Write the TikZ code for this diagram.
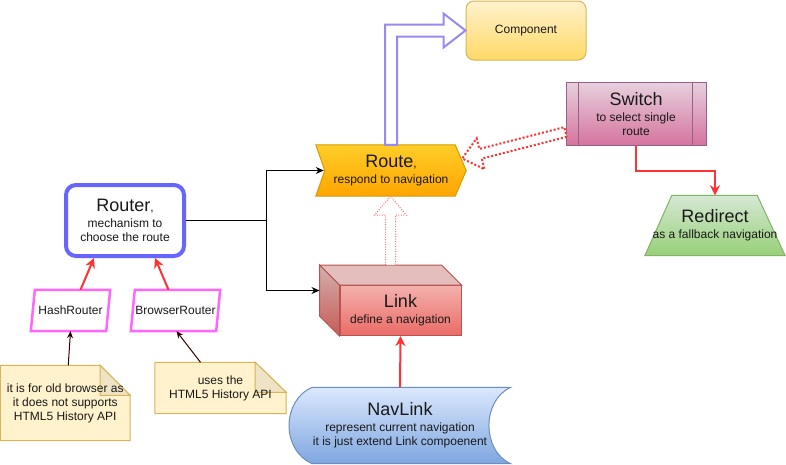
\documentclass[tikz,border=0pt]{standalone}
\usepackage{fontspec}
\setmainfont{Liberation Sans}
\usepackage{tikz}
\usetikzlibrary{calc, arrows.meta, backgrounds}

\definecolor{routerblue}{HTML}{6666FF}
\definecolor{pinkline}{HTML}{FF66FF}
\definecolor{redline}{HTML}{FF3333}
\definecolor{noteline}{HTML}{330000}
\definecolor{flexline}{HTML}{9B88F5}
\definecolor{notefill}{HTML}{FFF2CC}
\definecolor{notedraw}{HTML}{D6B656}
\definecolor{foldfill}{HTML}{EEE3C4}
\definecolor{routetop}{HTML}{FFCD28}
\definecolor{routebot}{HTML}{FFA500}
\definecolor{routedraw}{HTML}{D79B00}
\definecolor{comptop}{HTML}{FFF2CC}
\definecolor{compbot}{HTML}{FFD966}
\definecolor{swtop}{HTML}{E6D0DE}
\definecolor{swbot}{HTML}{D5739D}
\definecolor{swdraw}{HTML}{996185}
\definecolor{redirtop}{HTML}{D5E8D4}
\definecolor{redirbot}{HTML}{97D077}
\definecolor{redirdraw}{HTML}{82B366}
\definecolor{linktop}{HTML}{F8CECC}
\definecolor{linkbot}{HTML}{EA6B66}
\definecolor{linkdraw}{HTML}{B85450}
\definecolor{navtop}{HTML}{DAE8FC}
\definecolor{navbot}{HTML}{7EA6E0}
\definecolor{navdraw}{HTML}{6C8EBF}

\newcommand{\bigtxt}{\fontsize{18}{20}\selectfont}

% hollow straight arrow: style, tail, tip
\newcommand{\hollowarrow}[3]{%
  \coordinate (ha-c) at ($(#3)!19pt!(#2)$);
  \draw[#1] ($(#2)!5pt!90:(#3)$) -- ($(ha-c)!5pt!90:(#3)$) -- ($(ha-c)!16pt!90:(#3)$)
    -- (#3) -- ($(ha-c)!16pt!-90:(#3)$) -- ($(ha-c)!5pt!-90:(#3)$) -- ($(#2)!5pt!-90:(#3)$) -- cycle;}

\begin{document}
\begin{tikzpicture}[x=1pt, y=-1pt,
    every node/.style={font=\fontsize{12}{14}\selectfont, text=black!90, align=center, inner sep=0pt},
    routerbox/.style={draw=routerblue, line width=4, rounded corners=10, fill=white},
    slantfill/.style={draw=pinkline, line width=2.5, fill=white},
    notefill/.style={draw=notedraw, fill=notefill, line width=1},
    foldfill/.style={draw=notedraw, fill=foldfill, line width=1},
    conn/.style={-{Stealth[length=8pt,width=7pt]}, line width=1},
    redarrow/.style={-{Stealth[length=10pt,width=10pt]}, draw=redline, line width=2},
    notearrow/.style={-{Stealth[length=7pt,width=6pt]}, draw=noteline, line width=1},
    bendarrow/.style={draw=flexline, line width=2, fill=white, line join=miter},
    dottedarrow/.style={draw=redline, line width=2, dash pattern=on 2pt off 2pt, fill=white},
    thinarrow/.style={draw=redline!70, line width=1, dash pattern=on 1pt off 1.5pt, fill=white}
  ]
  \useasboundingbox (0,0) rectangle (786,464);

  % nodes
  \node (router) [routerbox, minimum width=118, minimum height=71] at (125,220.5)
    {{\bigtxt Router},\\[2pt] mechanism to\\ choose the route};
  \node (hash) [minimum width=79, minimum height=41] at (70.5,310.5) {HashRouter};
  \node (brow) [minimum width=89, minimum height=41] at (175.5,310.5) {BrowserRouter};
  \node (note1) [minimum width=129.5, minimum height=75] at (65.25,403)
    {it is for old browser as\\ it does not supports\\ HTML5 History API};
  \node (note2) [minimum width=131, minimum height=51] at (220.5,388)
    {uses the\\ HTML5 History API};
  \node (route) [minimum width=150, minimum height=51] at (391,170.5)
    {{\bigtxt Route},\\[2pt] respond to navigation};
  \node (comp) [draw=notedraw, line width=1, top color=comptop, bottom color=compbot,
    rounded corners=8, minimum width=120, minimum height=59] at (526,30.5) {Component};
  \node (sw) [draw=swdraw, line width=1, top color=swtop, bottom color=swbot,
    minimum width=140, minimum height=63] at (636,114)
    {{\bigtxt Switch}\\[2pt] to select single\\ route};
  \node (redir) [minimum width=140, minimum height=60] at (715,225.5)
    {{\bigtxt Redirect}\\[2pt] as a fallback navigation};
  \node (link) [draw=linkdraw, line width=1, top color=linktop!70!linkbot, bottom color=linkbot,
    minimum width=121, minimum height=50] at (400.5,310.5)
    {{\bigtxt Link}\\[2pt] define a navigation};
  \node (nav) [minimum width=221, minimum height=76] at (400,425.5)
    {{\bigtxt NavLink}\\[2pt] represent current navigation\\ it is just extend Link compoenent};

  % shapes behind the texts
  \begin{pgfonlayer}{background}
    \fill[white] (0,0) rectangle (786,464);
    \path[slantfill] ([xshift=4]hash.north west) -- (hash.north east)
      -- ([xshift=-4]hash.south east) -- (hash.south west) -- cycle;
    \path[slantfill] ([xshift=4]brow.north west) -- (brow.north east)
      -- ([xshift=-4]brow.south east) -- (brow.south west) -- cycle;
    \path[draw=routedraw, line width=1, top color=routetop, bottom color=routebot]
      (route.north west) -- ([xshift=-11]route.north east) -- (route.east)
      -- ([xshift=-11]route.south east) -- (route.south west) -- ([xshift=9]route.west) -- cycle;
    \path[draw=redirdraw, line width=1, top color=redirtop, bottom color=redirbot]
      ([xshift=27]redir.north west) -- ([xshift=-28]redir.north east)
      -- (redir.south east) -- (redir.south west) -- cycle;
    \path[draw=navdraw, line width=1, top color=navtop, bottom color=navbot]
      ([xshift=23]nav.north west) -- (nav.north east)
      .. controls ([xshift=-29,yshift=-13]nav.north east) and ([xshift=-29,yshift=13]nav.south east) .. (nav.south east)
      -- ([xshift=23]nav.south west)
      .. controls ([xshift=-8,yshift=13]nav.south west) and ([xshift=-8,yshift=-13]nav.north west) .. cycle;
    \path[notefill] (note1.south west) -- (note1.north west) -- ([xshift=-30]note1.north east)
      -- ([yshift=-30]note1.north east) -- (note1.south east) -- cycle;
    \path[foldfill] ([xshift=-30]note1.north east) -- ([xshift=-30,yshift=-30]note1.north east)
      -- ([yshift=-30]note1.north east) -- cycle;
    \path[notefill] (note2.south west) -- (note2.north west) -- ([xshift=-31]note2.north east)
      -- ([yshift=-30]note2.north east) -- (note2.south east) -- cycle;
    \path[foldfill] ([xshift=-31]note2.north east) -- ([xshift=-31,yshift=-30]note2.north east)
      -- ([yshift=-30]note2.north east) -- cycle;
  \end{pgfonlayer}

  % cube faces of the link
  \path[draw=linkdraw, line width=1, fill=linktop!92!black]
    ([xshift=-20,yshift=20]link.north west) -- ([xshift=-20,yshift=20]link.north east)
    -- (link.north east) -- (link.north west) -- cycle;
  \path[draw=linkdraw, line width=1, top color=linktop!85!black, bottom color=linkbot!85!black]
    ([xshift=-20,yshift=20]link.north west) -- (link.north west) -- (link.south west)
    -- ([xshift=-20,yshift=20]link.south west) -- cycle;

  % switch side bars
  \draw[swdraw, line width=1] ([xshift=13]sw.north west) -- ([xshift=13]sw.south west);
  \draw[swdraw, line width=1] ([xshift=-14]sw.north east) -- ([xshift=-14]sw.south east);

  % connectors
  \draw[conn] (router.east) -- ++(80,0) |- ([xshift=8]route.west);
  \draw[conn] (router.east) -- ++(80,0) |- ([xshift=-20,yshift=20]link.west);
  \draw[redarrow] ([xshift=10]hash.north) -- ([xshift=-31]router.south);
  \draw[redarrow] ([xshift=-7]brow.north) -- ([xshift=30]router.south);
  \draw[redarrow] (sw.south) -- ++(0,25) -| (redir.north);
  \draw[redarrow] (nav.north) -- (link.south);
  \draw[notearrow] ([xshift=3]note1.north) -- (hash.south);
  \draw[notearrow] ([xshift=-20]note2.north) -- ([xshift=1]brow.south);

  \draw[bendarrow] ([xshift=-6]route.north) |- ([xshift=-22,yshift=6]comp.west)
    -- ([xshift=-22,yshift=17]comp.west) -- (comp.west) -- ([xshift=-22,yshift=-17]comp.west)
    -- ([xshift=-22,yshift=-6]comp.west) -| ([xshift=6]route.north) -- cycle;

  \coordinate (swtail) at ([yshift=-18]sw.west);
  \coordinate (swtip) at ([xshift=-4,yshift=12]route.east);
  \hollowarrow{dottedarrow}{swtail}{swtip}

  \coordinate (lktail) at ([xshift=-10,yshift=20]link.north);
  \coordinate (lktip) at ([xshift=-0.5]route.south);
  \hollowarrow{thinarrow}{lktail}{lktip}
\end{tikzpicture}
\end{document}
